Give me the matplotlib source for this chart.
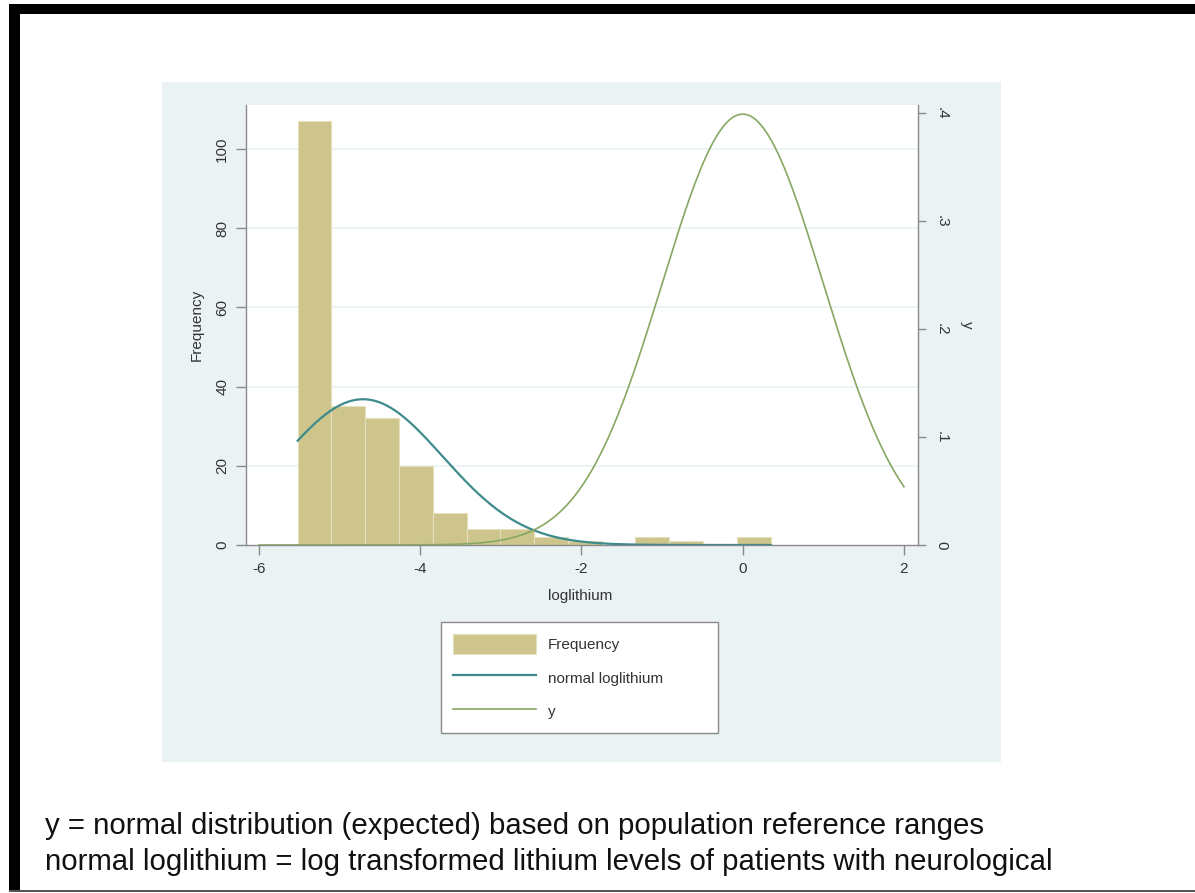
import numpy as np
import matplotlib
matplotlib.use("Agg")
import matplotlib.pyplot as plt
from matplotlib.patches import Rectangle

# ---------------- data ----------------
bin_start = -5.52          # left edge of first histogram bin
bin_width = 0.419          # histogram bin width
counts = [107, 35, 32, 20, 8, 4, 4, 2, 1, 0, 2, 1, 0, 2]

# fitted normal curve of loglithium (frequency scale)
normal_mean = -4.71
normal_sd = 0.99
normal_range = (-5.52, 0.35)

# y = standard normal density (expected)
y_mean = 0.0
y_sd = 1.0
y_range = (-6.0, 2.0)

xticks = [-6, -4, -2, 0, 2]
xtick_labels = ["-6", "-4", "-2", "0", "2"]
left_ticks = [0, 20, 40, 60, 80, 100]
left_tick_labels = ["0", "20", "40", "60", "80", "100"]
right_ticks = [0, 0.1, 0.2, 0.3, 0.4]
right_tick_labels = ["0", ".1", ".2", ".3", ".4"]

note_lines = [
    "y = normal distribution (expected) based on population reference ranges",
    "normal loglithium = log transformed lithium levels of patients with neurological",
]

# ---------------- styling ----------------
W, H = 1195, 893
BAR = "#CDC58B"
TEAL = "#3E8A8C"
GREEN = "#86A862"
REGION = "#EAF2F3"
AXC = "#8A8A8A"
TXT = "#333333"

plt.rcParams["font.family"] = ["Liberation Sans", "DejaVu Sans"]

fig = plt.figure(figsize=(W / 100, H / 100), dpi=100)
fig.patch.set_facecolor("white")

def px_rect(x0, y0, x1, y1, **kw):
    fig.patches.append(Rectangle((x0 / W, 1 - y1 / H), (x1 - x0) / W, (y1 - y0) / H,
                                 transform=fig.transFigure, figure=fig, zorder=-5, **kw))

# outer frame
px_rect(9, 4, W, 14, facecolor="black", edgecolor="none")
px_rect(9, 4, 20, 892, facecolor="black", edgecolor="none")
px_rect(9, 890, W, 892, facecolor="#555555", edgecolor="none")
# graph region
px_rect(162, 82, 1001, 762, facecolor=REGION, edgecolor="none")

ax = fig.add_axes([246 / W, 1 - 545 / H, 672 / W, 440 / H])
ax.set_facecolor("white")
ax.set_xlim(-6.161, 2.174)
ax.set_ylim(0, 111.1)

edges = bin_start + bin_width * np.arange(len(counts) + 1)
bars = ax.bar(edges[:-1], counts, width=bin_width, align="edge", color=BAR,
              edgecolor="#E4DFBC", linewidth=0.8, label="Frequency", zorder=2)

xn = np.linspace(normal_range[0], normal_range[1], 400)
N = sum(counts)
yn = N * bin_width * np.exp(-0.5 * ((xn - normal_mean) / normal_sd) ** 2) / (normal_sd * np.sqrt(2 * np.pi))
ln_norm, = ax.plot(xn, yn, color=TEAL, lw=1.6, label="normal loglithium", zorder=3)

for t in left_ticks[1:]:
    ax.axhline(t, color=REGION, lw=1.2, zorder=1)

ax.set_xticks(xticks)
ax.set_xticklabels(xtick_labels)
ax.set_yticks(left_ticks)
ax.set_yticklabels(left_tick_labels, rotation=90, va="center")
ax.tick_params(axis="both", direction="out", length=7, width=1, color=AXC,
               labelsize=11, labelcolor=TXT, pad=5)
for s in ["top", "right"]:
    ax.spines[s].set_visible(False)
for s in ["left", "bottom"]:
    ax.spines[s].set_color(AXC)
    ax.spines[s].set_linewidth(1)

ax.set_xlabel("loglithium", fontsize=11, color=TXT)
ax.xaxis.set_label_coords(0.497, -0.115)
ax.xaxis.label.set_va("center")
ax.set_ylabel("Frequency", fontsize=11, color=TXT)
ax.yaxis.set_label_coords(-0.073, 0.5)
ax.yaxis.label.set_va("center")

ax2 = ax.twinx()
ax2.set_ylim(0, 0.4074)
xy = np.linspace(y_range[0], y_range[1], 400)
yy = np.exp(-0.5 * ((xy - y_mean) / y_sd) ** 2) / (y_sd * np.sqrt(2 * np.pi))
ln_y, = ax2.plot(xy, yy, color=GREEN, lw=1.2, label="y", zorder=4)
ax2.set_yticks(right_ticks)
ax2.set_yticklabels(right_tick_labels, rotation=-90, va="center")
ax2.tick_params(axis="y", direction="out", length=6, width=1, color=AXC,
                labelsize=11, labelcolor=TXT, pad=6)
for s in ["top", "left", "bottom"]:
    ax2.spines[s].set_visible(False)
ax2.spines["right"].set_color(AXC)
ax2.spines["right"].set_linewidth(1)
ax2.set_ylabel("y", fontsize=11, color=TXT, rotation=-90)
ax2.yaxis.set_label_coords(1.073, 0.5)
ax2.yaxis.label.set_va("center")

leg = fig.legend([bars, ln_norm, ln_y], ["Frequency", "normal loglithium", "y"],
                 loc="upper left",
                 bbox_to_anchor=(441 / W, 1 - 734 / H, 277 / W, 112 / H),
                 mode="expand", borderaxespad=0, fontsize=11,
                 handlelength=5.4, handleheight=1.6, handletextpad=0.8,
                 borderpad=0.8, labelspacing=0.92, fancybox=False,
                 framealpha=1, facecolor="white", edgecolor="#8A8A8A")
leg.get_frame().set_linewidth(1)
for t in leg.get_texts():
    t.set_color(TXT)

for i, line in enumerate(note_lines):
    fig.text(45 / W, 1 - (834 + 36 * i) / H, line, fontsize=21.2, color="#111111",
             va="baseline", ha="left")

fig.savefig("out.png", dpi=100, facecolor="white")
